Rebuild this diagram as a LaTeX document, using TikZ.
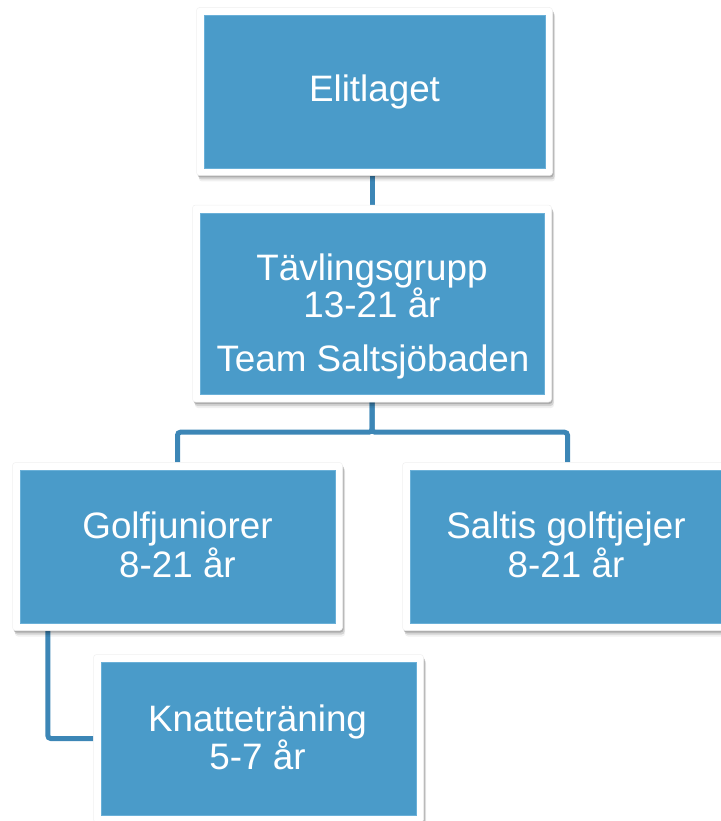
\documentclass[tikz,border=0pt]{standalone}
\usepackage{fontspec}
\setmainfont{Liberation Sans}
\usetikzlibrary{shadows,calc}
\definecolor{boxblue}{HTML}{4A9BC9}
\definecolor{boxedge}{HTML}{6AB0D8}
\definecolor{lineblue}{HTML}{3C86B6}
\begin{document}
\begin{tikzpicture}[x=1pt,y=-1pt,
  frame/.style={fill=white, draw=black!6, line width=0.5pt, rounded corners=3pt, inner sep=0pt,
    drop shadow={shadow xshift=1pt, shadow yshift=-2pt, opacity=.18, fill=black},
    drop shadow={shadow xshift=2pt, shadow yshift=-4pt, opacity=.12, fill=black},
    drop shadow={shadow xshift=2.5pt, shadow yshift=-6pt, opacity=.06, fill=black}},
  bluebox/.style={fill=boxblue, draw=boxedge, line width=0.8pt, inner sep=0pt},
  txt/.style={text=white, font=\fontsize{36.8}{40}\selectfont, inner sep=0pt, anchor=base},
  conn/.style={draw=lineblue, line width=5pt, rounded corners=3pt}]
\useasboundingbox (0,0) rectangle (720,821);
\path (374.5,91.5) coordinate (c1) (372,303.5) coordinate (c2) (177.5,546.5) coordinate (c3)
      (567.5,546.5) coordinate (c4) (258.5,738.5) coordinate (c5);
% invisible frame outlines for connector endpoints
\path (c1) node[minimum width=356pt, minimum height=168pt, inner sep=0pt] (f1) {};
\path (c2) node[minimum width=359pt, minimum height=197pt, inner sep=0pt] (f2) {};
\path (c3) node[minimum width=330pt, minimum height=168pt, inner sep=0pt] (f3) {};
\path (c4) node[minimum width=330pt, minimum height=168pt, inner sep=0pt] (f4) {};
\path (c5) node[minimum width=330pt, minimum height=168pt, inner sep=0pt] (f5) {};
% connectors first (behind boxes)
\draw[conn] (f2.north |- f1.south) -- (f2.north);
\draw[conn] (f2.south) -- ++(0,30) -| (f3.north);
\draw[conn] (f2.south) -- ++(0,30) -| (f4.north);
\draw[conn] ($(f3.south west)+(35.5,0)$) |- (f5.west);
% boxes
\node[frame, minimum width=356pt, minimum height=168pt] (fr1) at (c1) {};
\node[bluebox, minimum width=341pt, minimum height=153pt] (b1) at (c1) {};
\node[frame, minimum width=359pt, minimum height=197pt] (fr2) at (c2) {};
\node[bluebox, minimum width=344pt, minimum height=181pt] (b2) at (c2) {};
\node[frame, minimum width=330pt, minimum height=168pt] (fr3) at (c3) {};
\node[bluebox, minimum width=315pt, minimum height=153pt] (b3) at (c3) {};
\node[frame, minimum width=330pt, minimum height=168pt] (fr4) at (c4) {};
\node[bluebox, minimum width=315pt, minimum height=153pt] (b4) at (c4) {};
\node[frame, minimum width=330pt, minimum height=168pt] (fr5) at (c5) {};
\node[bluebox, minimum width=315pt, minimum height=153pt] (b5) at (c5) {};
% texts
\node[txt] (t1) at (374.5,102) {Elitlaget};
\node[txt] (t2a) at (372,280) {Tävlingsgrupp};
\node[txt] (t2b) at (372,317) {13-21 år};
\node[txt] (t2c) at (373,371) {Team Saltsjöbaden};
\node[txt] (t3a) at (177.5,538) {Golfjuniorer};
\node[txt] (t3b) at (177.5,577) {8-21 år};
\node[txt] (t4a) at (566,538) {Saltis golftjejer};
\node[txt] (t4b) at (566,577) {8-21 år};
\node[txt] (t5a) at (257.5,731) {Knatteträning};
\node[txt] (t5b) at (257.5,769) {5-7 år};
\end{tikzpicture}
\end{document}
